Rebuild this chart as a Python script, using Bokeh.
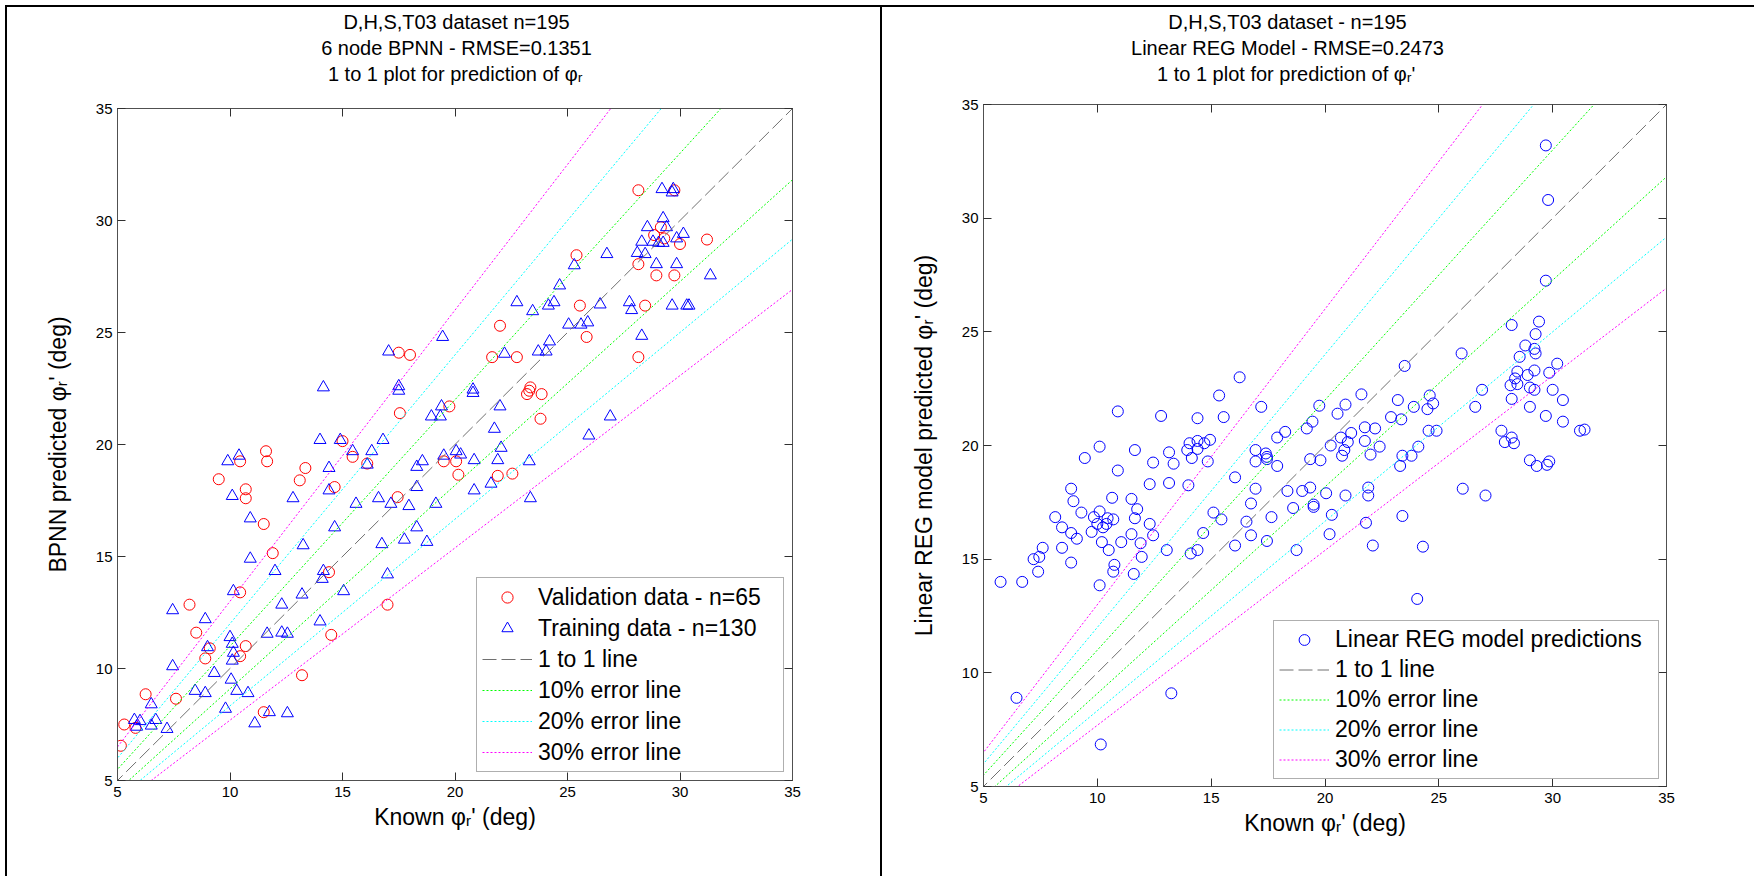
import numpy as np
from bokeh.plotting import figure
from bokeh.models import Range1d, FixedTicker, LinearAxis, Title, CustomJSTickFormatter, Spacer
from bokeh.layouts import row, column
from bokeh.embed import file_html
from bokeh.resources import INLINE

# ---------------- data ----------------
axis_ticks = [5, 10, 15, 20, 25, 30, 35]
axis_limits = [5, 35]
error_levels = [0.1, 0.2, 0.3]
error_colors = ["#00ff00", "#00ffff", "#ff00ff"]
error_labels = ["10% error line", "20% error line", "30% error line"]

# BPNN validation data (known, predicted)
val_known = [17.5, 18.0, 17.55, 15.0, 11.6,
             28.15, 29.75, 29.15, 28.85, 29.3, 30.0, 31.2, 25.4, 28.15, 28.95, 29.75, 25.55,
             28.45, 22.0, 25.85, 28.15, 21.65, 22.75, 23.35, 23.2, 23.85, 19.75, 23.8, 23.3,
             15.45, 16.1, 11.65, 10.45, 9.5, 13.35, 13.1, 10.7, 10.7, 14.65, 17.45, 11.5, 11.9,
             14.4, 10.45, 8.2, 8.5, 9.1, 8.9, 10.7, 10.45, 14.5, 17.0, 13.2, 6.25, 7.6, 11.5,
             5.3, 5.8, 5.15,
             19.5, 20.05, 20.15, 21.9, 22.55]
val_pred = [24.1, 24.0, 21.4, 20.15, 19.7,
            31.35, 31.35, 29.7, 29.35, 29.2, 28.95, 29.15, 28.45, 28.05, 27.55, 27.55, 26.2,
            26.2, 25.3, 24.8, 23.9, 23.9, 23.9, 22.55, 22.25, 22.25, 21.7, 21.15, 22.4,
            19.45, 19.15, 19.25, 19.25, 18.45, 18.95, 18.4, 18.0, 17.6, 18.1, 17.65, 16.45, 15.15,
            14.3, 13.4, 12.85, 11.6, 10.9, 10.45, 11.0, 10.55, 11.5, 12.85, 9.7, 8.85, 8.65, 8.05,
            7.5, 7.35, 6.55,
            19.25, 19.25, 18.65, 18.6, 18.7]

# BPNN training data (known, predicted)
trn_known = [19.45, 17.05, 14.15, 17.5, 17.5, 14.0, 14.9, 16.8, 15.45, 16.3,
             29.2, 29.7, 29.65, 29.25, 29.4, 28.55, 30.15, 29.85, 28.3, 28.8, 29.05, 29.25,
             28.1, 28.45, 26.75, 25.3, 28.95, 29.85, 31.35, 24.65, 22.75, 23.45, 24.15, 24.4,
             26.45, 27.75, 27.85, 29.65, 30.4, 30.3, 25.05, 25.6, 25.9, 28.3, 24.2, 23.7, 24.05,
             22.2, 20.8, 20.8, 19.4, 18.95, 19.35, 22.0, 26.9, 25.95, 21.75, 22.05,
             9.9, 10.4, 16.1, 14.4, 14.4, 12.8, 10.1, 10.9, 15.6, 16.6, 17.15, 14.65, 13.25,
             16.75, 10.9, 12.0, 14.15, 14.1, 17.0, 10.15, 13.2, 15.05, 7.45, 8.9, 12.3, 14.0,
             11.65, 12.3, 12.55, 10.0, 10.1, 9.0, 10.15, 10.1, 7.45, 9.3, 10.05, 8.45, 8.9, 10.3,
             10.8, 6.5, 9.8, 11.75, 12.55, 11.1, 5.75, 6.0, 6.7, 5.85, 6.5, 7.2,
             18.3, 18.55, 19.5, 20.25, 20.05, 20.85, 21.9, 23.3, 18.3, 17.95, 19.15, 20.85,
             21.6, 23.35, 18.3, 17.75, 18.75]
trn_pred = [24.8, 24.15, 22.55, 22.6, 22.4, 20.2, 20.2, 20.2, 19.7, 19.7,
            31.4, 31.4, 31.25, 30.1, 29.7, 29.7, 29.4, 29.2, 29.05, 29.05, 29.0, 29.0,
            28.55, 28.5, 28.5, 28.0, 28.05, 28.05, 27.55, 27.1, 26.35, 25.95, 26.2, 26.35,
            26.25, 26.35, 26.0, 26.2, 26.2, 26.2, 25.35, 25.35, 25.45, 24.85, 24.6, 24.15, 24.15,
            24.05, 22.45, 22.3, 21.7, 21.25, 21.25, 21.7, 21.25, 20.4, 20.7, 19.85,
            19.25, 19.5, 19.1, 18.95, 17.95, 17.6, 17.7, 16.7, 17.35, 17.6, 17.35, 16.3, 15.5,
            15.55, 14.9, 14.35, 14.35, 14.0, 14.2, 13.45, 13.3, 13.45, 12.6, 12.2, 12.85, 12.1,
            11.55, 11.6, 11.55, 11.4, 11.1, 10.95, 10.7, 10.35, 10.1, 9.8, 9.5, 9.0, 8.9, 9.0,
            8.9, 8.4, 8.2, 8.05, 8.0, 7.55, 7.7, 7.65, 7.7, 7.4, 7.45, 7.3,
            19.0, 19.25, 19.5, 19.55, 19.7, 19.3, 19.3, 19.25, 18.1, 17.25, 17.35, 17.95,
            18.25, 17.6, 16.3, 15.75, 15.65]

# Linear regression model predictions (known, predicted)
reg_known = [16.25, 15.35, 10.9, 12.8, 14.4, 15.55, 17.2, 18.25, 17.9, 10.1, 14.05, 14.4,
             14.7, 14.95, 13.95, 14.4, 11.65, 16.95,
             29.7, 29.8, 29.7, 28.2, 29.4, 29.25, 28.8, 29.2, 29.25, 28.55, 30.2, 26.0, 23.5,
             28.45, 28.9, 29.2, 29.85, 28.35, 28.15, 28.45, 29.0, 29.2, 30.0, 30.45, 28.2, 29.0,
             29.7, 30.45, 31.2, 31.4, 27.75, 28.2, 27.9, 28.3, 26.9, 26.6, 24.6, 24.75, 24.5,
             23.9, 23.2, 22.9, 23.35, 21.6, 20.9, 20.55, 19.75, 21.75, 22.2, 21.15, 20.7, 21.0,
             21.75, 19.45, 19.2, 20.25, 24.55, 24.9, 24.1, 22.4, 20.85,
             13.15, 17.4, 17.45, 17.45, 16.95, 14.85, 14.15, 13.35, 12.45, 9.45, 10.9, 17.9,
             16.05, 16.95, 12.3, 13.15, 14.0, 8.85, 10.65, 11.5, 8.95, 11.75, 16.75, 18.35, 18.6,
             17.65, 9.3, 8.15, 9.85, 10.1, 10.45, 10.7, 10.0, 10.25, 10.4, 8.45, 8.85, 9.1, 9.75,
             10.2, 10.5, 11.05, 11.65, 11.5, 11.9, 12.3, 12.45, 15.1, 15.45, 16.55, 16.75, 17.45,
             14.65, 14.4, 14.1, 13.05, 16.05, 18.75, 11.95, 10.75, 10.7, 11.6, 8.45, 7.6, 7.2,
             7.45, 7.4, 8.85, 5.75, 6.7, 10.1, 6.45, 13.25, 10.15,
             19.35, 19.8, 20.75, 22.0, 23.4, 23.8, 23.3, 29.0, 29.3, 29.75, 29.85, 19.0, 19.35,
             20.05, 20.9, 21.9, 21.9, 19.5, 19.5, 20.3, 20.2, 21.8, 22.1, 23.4, 24.3, 26.05,
             27.05, 24.05]
reg_pred = [23.0, 22.2, 21.5, 21.3, 21.2, 21.25, 21.7, 20.6, 20.35, 19.95, 20.1, 20.2,
            20.1, 20.25, 19.8, 19.85, 19.8, 19.8,
            33.2, 30.8, 27.25, 25.3, 25.45, 24.9, 24.4, 24.25, 24.05, 23.9, 23.6, 24.05, 23.5,
            23.25, 23.1, 23.3, 23.2, 22.95, 22.65, 22.7, 22.55, 22.45, 22.45, 22.0, 22.05, 21.7,
            21.3, 21.05, 20.65, 20.7, 20.65, 20.35, 20.15, 20.1, 22.45, 21.7, 22.2, 21.85, 21.6,
            21.7, 22.0, 21.25, 21.15, 22.25, 21.8, 21.4, 21.75, 20.8, 20.75, 20.55, 20.35, 20.15,
            20.2, 21.05, 20.75, 20.0, 20.65, 20.65, 19.95, 19.95, 19.8,
            19.7, 19.65, 19.5, 19.4, 19.3, 19.3, 19.45, 19.2, 19.25, 19.45, 18.9, 19.1,
            18.6, 18.1, 18.3, 18.35, 18.25, 18.1, 17.7, 17.65, 17.55, 17.2, 17.45, 18.0, 17.25,
            16.85, 17.05, 16.85, 16.85, 17.1, 16.8, 16.75, 16.55, 16.4, 16.55, 16.4, 16.15, 15.9, 16.2,
            15.75, 15.4, 15.75, 16.8, 16.1, 15.7, 16.55, 16.05, 17.05, 16.75, 16.65, 16.05, 15.8,
            16.15, 15.4, 15.25, 15.4, 15.6, 15.4, 15.1, 14.75, 14.45, 14.35, 15.5, 15.5, 15.0,
            15.1, 14.45, 14.85, 14.0, 14.0, 13.85, 8.9, 9.1, 6.85,
            19.4, 19.35, 19.55, 19.6, 19.55, 19.55, 19.1, 19.35, 19.1, 19.15, 19.3, 18.0, 18.15,
            17.9, 17.8, 18.15, 17.8, 17.4, 17.3, 16.95, 16.1, 16.6, 15.6, 16.9, 15.55, 18.1,
            17.8, 13.25]

# ---------------- styling ----------------
FONT = "Liberation Sans"
AXIS_GRAY = "#505050"
PAGE_H = 876
FIG_Y0 = 7
FIG_H = PAGE_H - FIG_Y0
TITLE_PX = 20

# advance widths (per 1000 em) of the Arial-metric font, used to centre titles at a given x
_W = {" ": 278, ",": 278, "-": 333, ".": 278, "=": 584, "'": 191,
      "D": 722, "H": 722, "S": 667, "T": 611, "L": 556, "R": 722, "E": 667, "G": 778,
      "M": 833, "B": 667, "P": 667, "N": 722,
      "a": 556, "d": 556, "e": 556, "s": 500, "t": 278, "n": 556, "i": 222, "r": 333,
      "o": 556, "l": 222, "p": 556, "f": 278, "c": 500, "\u03c6": 620, "\u1d63": 400}


def text_width(s, px):
    return sum(_W.get(ch, 556) for ch in s) * px / 1000.0


def make_panel(fig_x0, fig_w, frame, titles, title_cx, gap_standoff, xlabel, ylabel):
    fl, ft, fr, fb = frame
    p = figure(width=fig_w, height=FIG_H, title=None,
               x_range=Range1d(*axis_limits), y_range=Range1d(*axis_limits),
               output_backend="svg", toolbar_location=None,
               min_border_left=fl - fig_x0, min_border_right=fig_x0 + fig_w - fr,
               min_border_top=ft - FIG_Y0, min_border_bottom=PAGE_H - fb)
    p.xgrid.visible = False
    p.ygrid.visible = False
    p.outline_line_color = AXIS_GRAY
    p.background_fill_color = "white"
    p.border_fill_color = "white"

    for ax in list(p.xaxis) + list(p.yaxis):
        ax.ticker = FixedTicker(ticks=axis_ticks)
        ax.major_tick_in = 8
        ax.major_tick_out = 0
        ax.minor_tick_line_color = None
        ax.axis_line_color = AXIS_GRAY
        ax.major_tick_line_color = "#303030"
        ax.major_label_text_font = FONT
        ax.major_label_text_font_size = "15px"
        ax.major_label_text_color = "black"
        ax.axis_label_text_font = FONT
        ax.axis_label_text_font_size = "23px"
        ax.axis_label_text_font_style = "normal"
        ax.axis_label_text_color = "black"
    p.xaxis.axis_label = xlabel
    p.yaxis.axis_label = ylabel
    p.xaxis.major_label_standoff = 6
    p.yaxis.major_label_standoff = 5
    p.xaxis.axis_label_standoff = 4
    p.yaxis.axis_label_standoff = 22

    # box ticks on top and right (no labels)
    for loc in ("above", "right"):
        ax = LinearAxis(ticker=FixedTicker(ticks=axis_ticks),
                        formatter=CustomJSTickFormatter(code="return ''"),
                        major_label_text_font_size="0px", major_label_standoff=0,
                        major_tick_in=8, major_tick_out=0,
                        minor_tick_line_color=None,
                        axis_line_color=AXIS_GRAY, major_tick_line_color="#303030")
        p.add_layout(ax, loc)

    # empty spacer title: gap between the axes box and the title block
    p.add_layout(Title(text=" ", standoff=gap_standoff, text_font=FONT,
                       text_font_size="14px"), "above")
    # three title lines, added from the one nearest the axes outward
    for text in reversed(titles):
        off = title_cx - fl - text_width(text, TITLE_PX) / 2.0
        p.add_layout(Title(text=text, align="left", offset=off, standoff=2,
                           text_font=FONT, text_font_size=f"{TITLE_PX}px",
                           text_font_style="normal", text_color="black"), "above")
    return p


def add_lines(p):
    line_x = np.array([0.0, 40.0])
    p.line(line_x, line_x, line_color="#707070", line_width=1, line_dash="14 5",
           legend_label="1 to 1 line")
    for e, c, lab in zip(error_levels, error_colors, error_labels):
        p.multi_line(xs=[line_x, line_x], ys=[line_x * (1 + e), line_x / (1 + e)],
                     line_color=c, line_width=1, line_dash="2 2", legend_label=lab)


def style_legend(p, margin, label_width, glyph_h):
    lg = p.legend[0]
    lg.location = "bottom_right"
    lg.margin = margin
    lg.padding = 5
    lg.spacing = 3
    lg.glyph_width = 50
    lg.glyph_height = glyph_h
    lg.label_height = glyph_h
    lg.label_width = label_width
    lg.label_standoff = 6
    lg.label_text_font = FONT
    lg.label_text_font_size = "23px"
    lg.label_text_color = "black"
    lg.border_line_color = "#606060"
    lg.border_line_width = 1
    lg.background_fill_color = "white"
    lg.background_fill_alpha = 1.0


# ---------------- left panel: BPNN ----------------
p1 = make_panel(7, 873, (117, 106, 792, 780),
                ["D,H,S,T03 dataset n=195", "6 node BPNN - RMSE=0.1351",
                 "1 to 1 plot for prediction of \u03c6\u1d63"],
                456, 4.5,
                "Known \u03c6\u1d63' (deg)", "BPNN predicted \u03c6\u1d63' (deg)")
p1.scatter(val_known, val_pred, marker="circle", size=11, fill_color=None,
           line_color="#ff0000", line_width=1, legend_label="Validation data - n=65")
p1.scatter(trn_known, trn_pred, marker="triangle", size=12, fill_color=None,
           line_color="#0000ff", line_width=1, legend_label="Training data - n=130")
add_lines(p1)
style_legend(p1, 8, 240, 28)

# ---------------- right panel: linear regression ----------------
p2 = make_panel(882, 872, (983, 102, 1666, 786),
                ["D,H,S,T03 dataset - n=195", "Linear REG Model - RMSE=0.2473",
                 "1 to 1 plot for prediction of \u03c6\u1d63'"],
                1287, 0.5,
                "Known \u03c6\u1d63' (deg)", "Linear REG model predicted \u03c6\u1d63' (deg)")
p2.scatter(reg_known, reg_pred, marker="circle", size=11, fill_color=None,
           line_color="#0000ff", line_width=1, legend_label="Linear REG model predictions")
add_lines(p2)
style_legend(p2, 7, 318, 27)

# ---------------- page frame ----------------
BLACK = {"background-color": "black"}
top_gap = Spacer(width=1754, height=5)
top_line = row(Spacer(width=5, height=2), Spacer(width=1749, height=2, styles=BLACK))
body = row(Spacer(width=5, height=FIG_H),
           Spacer(width=2, height=FIG_H, styles=BLACK),
           column(p1),
           Spacer(width=2, height=FIG_H, styles=BLACK),
           column(p2))
page = column(top_gap, top_line, body)

open("out.html", "w").write(file_html(page, INLINE))
